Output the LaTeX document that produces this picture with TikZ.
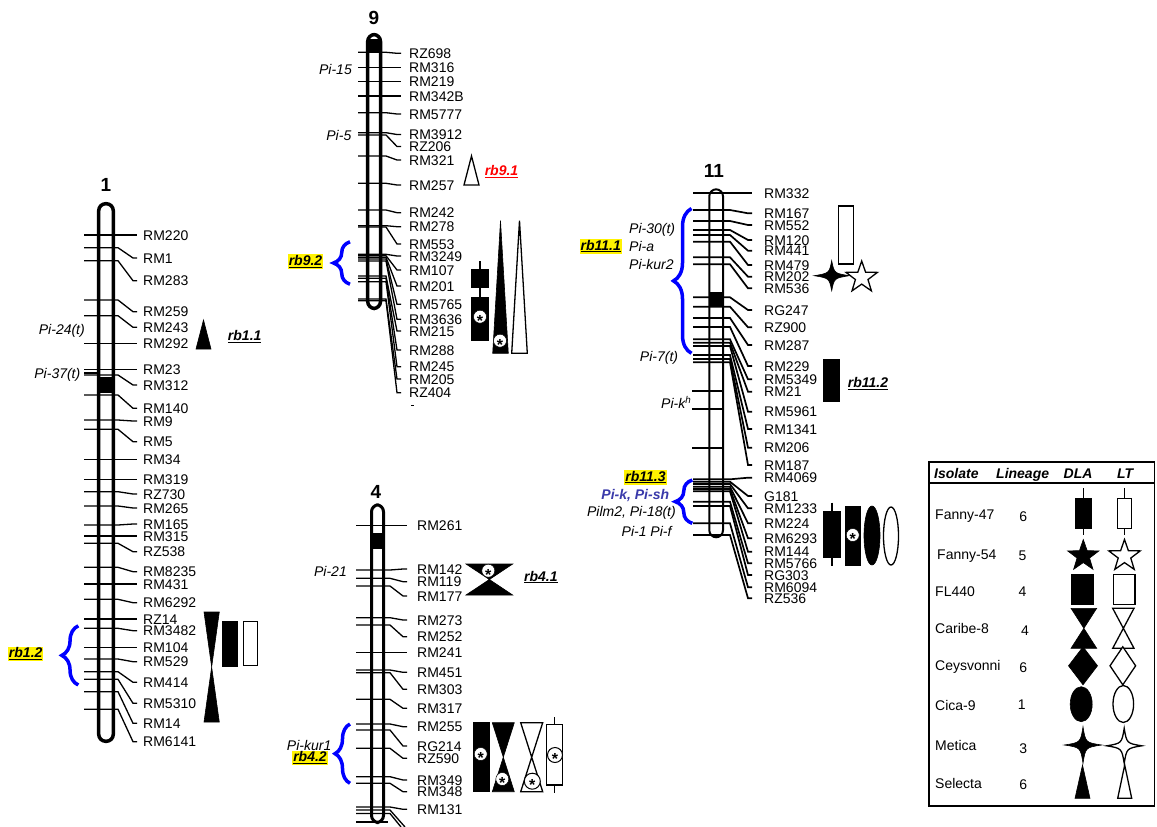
\documentclass[tikz,border=0pt]{standalone}
\usepackage{fontspec}
\setmainfont{Liberation Sans}
\usetikzlibrary{decorations.pathreplacing}
\definecolor{pik}{RGB}{58,58,170}
\newcommand\lbf{\fontsize{14}{16}\selectfont}
\newcommand\myul[1]{\sbox0{#1}\rlap{\rule[-2.3pt]{\wd0}{1.1pt}}\usebox0}
\newcommand\chrmarks[7]{\foreach \tY/\lY/\nY in {#7}{%
  \node[lab] (#1\nY) at (#4,\lY) {\nY};
  \draw[#6] (#2,\tY) -- (#3,\tY) -- ([xshift=-#5pt]#1\nY.west) -- ([xshift=4pt-#5pt]#1\nY.west);}}
\newcommand\hgl[5]{\path[#5] (#1,#3) -- (#2,#3) -- (#1,#4) -- (#2,#4) -- cycle;}
\newcommand\trg[5]{\path[#5] (#1,#4) -- ({(#1+#2)/2},#3) -- (#2,#4) -- cycle;}
\newcommand\wbx[7]{\draw[whk] ({(#1+#2)/2},#5) -- ({(#1+#2)/2},#6); \path[#7] (#1,#3) rectangle (#2,#4);}
\newcommand\dmd[5]{\path[#5] (#1,#2-#4) -- (#1+#3,#2) -- (#1,#2+#4) -- (#1-#3,#2) -- cycle;}
\newcommand\sfour[5]{\path[#5] (#1+#3,#2) .. controls (#1+2.5,#2-2.5) .. (#1,#2-#4) .. controls (#1-2.5,#2-2.5) .. (#1-#3,#2) .. controls (#1-2.5,#2+2.5) .. (#1,#2+#4) .. controls (#1+2.5,#2+2.5) .. (#1+#3,#2) -- cycle;}
\newcommand\sfive[4]{\path[#4] (#1,#2-#3) \foreach \k in {1,...,9}{ -- ({#1+(mod(\k,2)==1?0.4*#3:#3)*cos(90+36*\k)},{#2-(mod(\k,2)==1?0.4*#3:#3)*sin(90+36*\k)}) } -- cycle;}
\newcommand\astx{\raisebox{-0.6em}{*}}
\begin{document}
\begin{tikzpicture}[x=1pt,y=-1pt,
  tk/.style={line width=1.3pt},
  tk11/.style={line width=1.7pt},
  lab/.style={anchor=west,inner sep=0pt,text height=10pt,text depth=0pt,font=\lbf},
  pil/.style={inner sep=0pt,text height=10pt,text depth=0pt,font=\lbf\itshape},
  rbl/.style={inner xsep=1pt,inner ysep=1pt,text height=10pt,text depth=2.5pt,font=\lbf\bfseries\itshape},
  hl/.style={rbl,fill=yellow},
  chrom/.style={draw=black,fill=white,line width=3.5pt,rounded corners=7pt},
  ttl/.style={font=\fontsize{19}{20}\selectfont\bfseries,inner sep=0pt},
  brc/.style={draw=blue,line width=3.5pt,decorate},
  blk/.style={fill=black,draw=black,line width=0.6pt},
  opn/.style={fill=white,draw=black,line width=1.3pt},
  whk/.style={line width=1.3pt},
  astn/.style={circle,fill=white,draw=black,line width=0.5pt,inner sep=0pt,text height=0pt,text depth=0pt,font=\fontsize{16}{16}\selectfont\bfseries},
  leg/.style={anchor=west,inner sep=0pt,text height=10pt,text depth=0pt,font=\lbf},
  legh/.style={leg,font=\lbf\bfseries\itshape},
  num/.style={inner sep=0pt,text height=10pt,text depth=0pt,font=\lbf}
]
\useasboundingbox[fill=white] (0,0) rectangle (1157,827);

% ---------- chromosome 1 ----------
\node[ttl] (t1) at (106,185) {1};
\path[chrom] (98.7,203.7) rectangle (113.3,741.3);
\fill (98.7,377) rectangle (113.3,393);
\chrmarks{c1-}{84}{118}{143}{10}{tk}{235/235/RM220, 247.7/258/RM1, 260.7/280.7/RM283, 300/311.7/RM259, 315.7/327.3/RM243, 343.3/343.3/RM292, 369.3/369.3/RM23, 375/385/RM312, 395/408.3/RM140, 420/421/RM9, 429.3/441.7/RM5, 459.3/459.3/RM34, 479.3/479.3/RM319, 491.7/494/RZ730, 506/508/RM265, 525/524/RM165, 536/536/RM315, 543.3/551.7/RZ538, 567.3/571.7/RM8235, 584/584/RM431, 599.3/602.7/RM6292, 619/619/RZ14, 628.3/630.7/RM3482, 647.7/647.7/RM104, 659/661.7/RM529, 671.7/682.3/RM414, 679.3/703.3/RM5310, 691.7/723.3/RM14, 709.3/741.7/RM6141}
\draw[tk] (84,373) -- (99,373);
\node[pil,anchor=east] (p24) at (85,329.3) {Pi-24(t)};
\node[pil,anchor=east] (p37) at (80.5,373) {Pi-37(t)};
\draw[brc,decoration={brace,amplitude=16.5pt}] (78.3,685) -- (78.3,625.8);
\node[hl] (rb12) at (25.7,654) {\myul{rb1.2}};
\trg{196}{211}{320}{349}{blk}
\node[rbl] (rb11) at (244.7,337) {\myul{rb1.1}};
\hgl{204}{219.3}{612}{722}{blk}
\path[blk] (222,621) rectangle (237.7,666);
\path[opn] (243.5,621.5) rectangle (257.5,665.5);

% ---------- chromosome 9 ----------
\node[ttl] (t9) at (374,18) {9};
\path[chrom] (367.7,34.5) rectangle (380.5,308.5);
\begin{scope}
\clip[rounded corners=7pt] (367.7,34.5) rectangle (380.5,308.5);
\fill (360,39) rectangle (390,52);
\end{scope}
\chrmarks{c9-}{358}{386}{409}{12}{tk}{52.3/53.3/RZ698, 67.7/67.7/RM316, 81.7/81.7/RM219, 96/96/RM342B, 112.7/114/RM5777, 132.7/134.5/RM3912, 135/146.5/RZ206, 156/160/RM321, 183.3/185/RM257, 210/212.7/RM242, 225.7/226.7/RM278, 227/244/RM553, 254.3/256/RM3249, 255.7/270/RM107, 257.3/286/RM201, 259/304.3/RM5765, 261/319.3/RM3636, 276/331/RM215, 278.3/350/RM288, 281.7/366.7/RM245, 299/379/RM205, 300.7/392.7/RZ404}
\draw[line width=1pt] (411,405.5) -- (414,405.5);
\node[pil,anchor=east] (p15) at (352,69.3) {Pi-15};
\node[pil,anchor=east] (p5) at (351.5,135) {Pi-5};
\draw[brc,decoration={brace,amplitude=16.5pt}] (350,284.2) -- (350,241.8);
\node[hl] (rb92) at (305.5,261.7) {\myul{rb9.2}};
\trg{464}{479}{156}{185}{opn}
\node[rbl,text=red] (rb91) at (501.5,171.7) {\myul{rb9.1}};
\wbx{471.7}{488.3}{269}{287.3}{261}{296.7}{blk}
\path[blk] (471.7,297.3) rectangle (488.3,340);
\node[astn,minimum size=13pt] (a91) at (480,316.7) {\astx};
\trg{492.7}{508.3}{220.7}{353.3}{blk}
\node[astn,minimum size=13pt] (a92) at (500,340.7) {\astx};
\trg{511.7}{527.3}{220.7}{353.3}{opn}

% ---------- chromosome 4 ----------
\node[ttl] (t4) at (376,492) {4};
\path[chrom,line width=3pt] (371.5,504.8) rectangle (383.5,822.5);
\fill (371.5,533.3) rectangle (383.5,549.3);
\chrmarks{c4-}{356}{390}{417}{14}{tk}{525.7/525.7/RM261, 570/569/RM142, 578.3/581.7/RM119, 586/596/RM177, 617.7/620/RM273, 625/636.7/RM252, 652.7/652.7/RM241, 670/672.3/RM451, 672.7/689.3/RM303, 699.3/708.3/RM317, 724/726.7/RM255, 730/746/RG214, 748.3/758.3/RZ590, 776.7/780/RM349, 783.3/791.7/RM348, 807/809.3/RM131}
\draw[tk] (356,810) -- (390,810) -- (405,827);
\draw[tk] (356,813.5) -- (390,813.5) -- (401,827);
\draw[tk] (356,822) -- (388,822);
\node[pil,anchor=east] (p21) at (347,571.7) {Pi-21};
\node[pil,anchor=east] (pk1) at (331.5,745.5) {Pi-kur1};
\draw[brc,decoration={brace,amplitude=15pt}] (350,783.3) -- (350,724);
\node[hl] (rb42) at (310,758) {\myul{rb4.2}};
\hgl{466}{512.7}{564}{595}{blk}
\node[astn,minimum size=13pt] (a41) at (488.3,570.7) {\astx};
\node[rbl] (rb41) at (540.8,577.3) {\myul{rb4.1}};
\path[blk] (473.3,722.7) rectangle (489.3,791.7);
\node[astn,minimum size=13pt] (a42) at (480.7,754) {\astx};
\hgl{492.3}{514.3}{722.7}{791.7}{blk}
\node[astn,minimum size=13pt] (a43) at (502.3,779) {\astx};
\hgl{520.7}{542.7}{722.7}{791.7}{opn}
\node[astn,minimum size=16pt,line width=1pt] (a44) at (532.3,781.2) {\astx};
\wbx{546.7}{562.3}{724.3}{785}{717.3}{793.3}{opn}
\node[astn,minimum size=15pt,line width=1pt] (a45) at (555,755) {\astx};

% ---------- chromosome 11 ----------
\node[ttl] (t11) at (714,171) {11};
\path[chrom,line width=2pt] (709.3,189.3) rectangle (723,537.3);
\fill (709.3,291.7) rectangle (723,306.7);
\chrmarks{c11-}{693}{730}{764}{16}{tk11}{193.3/193.3/RM332, 210/213.3/RM167, 221/225/RM552, 230/240/RM120, 235/250.7/RM441, 241.7/265/RM479, 257.3/276.7/RM202, 264.3/288.3/RM536, 297.3/310/RG247, 306.7/327.3/RZ900, 318/345/RM287, 327/366/RM229, 339.3/379.3/RM5349, 342.7/391.7/RM21, 346/411.7/RM5961, 355/429/RM1341, 359/447.7/RM206, 362.3/465/RM187, 479.3/477.7/RM4069, 481.7/496/G181, 484/508.3/RM1233, 486.7/523.3/RM224, 489/538.3/RM6293, 491.3/551.7/RM144, 501.7/563.3/RM5766, 506/575/RG303, 523.3/587.3/RM6094, 535/598.3/RZ536}
\draw[tk11] (692,391) -- (724,391);
\draw[tk11] (692,409) -- (724,409);
\draw[tk11] (692,448.3) -- (724,448.3);
\draw[brc,decoration={brace,amplitude=18pt}] (691.5,353.3) -- (691.5,208.5);
\draw[brc,decoration={brace,amplitude=17pt}] (692.3,523.3) -- (692.3,480);
\node[pil,anchor=west] (p30) at (629,228.3) {Pi-30(t)};
\node[pil,anchor=west] (pa) at (629,246.7) {Pi-a};
\node[pil,anchor=west] (pk2) at (629,264.3) {Pi-kur2};
\node[hl] (rb111) at (600.8,246.3) {\myul{rb11.1}};
\node[pil,anchor=east] (p7) at (678.3,356.7) {Pi-7(t)};
\node[pil,anchor=east] (pkh) at (691.5,403.3) {Pi-k\textsuperscript{h}};
\node[hl] (rb113) at (645.5,477.3) {\myul{rb11.3}};
\node[pil,anchor=east,font=\lbf\bfseries\itshape,text=pik] (pksh) at (669.3,494.3) {Pi-k, Pi-sh};
\node[pil,anchor=east] (pilm) at (676,511.7) {Pilm2, Pi-18(t)};
\node[pil,anchor=east] (p1f) at (671.7,531.7) {Pi-1 Pi-f};
\path[opn] (838.3,206) rectangle (853.3,264);
\sfour{831.7}{275.7}{17.5}{15}{blk}
\sfive{861.7}{277.5}{16.5}{opn}
\path[blk] (823.3,359.3) rectangle (839,401);
\node[rbl] (rb112) at (868,384) {\myul{rb11.2}};
\wbx{823.3}{840.7}{511}{557.3}{502.7}{566}{blk}
\path[blk] (845,506) rectangle (860,565);
\node[astn,minimum size=13pt] (a111) at (852.7,535) {\astx};
\path[blk] (872,535.5) ellipse [x radius=8pt, y radius=29.5pt];
\path[opn] (891,536) ellipse [x radius=7.5pt, y radius=29pt];

% ---------- legend ----------
\draw[line width=1.2pt] (929,462) rectangle (1154.5,806);
\draw[line width=2pt] (929,483.3) -- (1154.5,483.3);
\node[legh] (hI) at (934,473.3) {Isolate};
\node[legh] (hL) at (996,473.3) {Lineage};
\node[legh] (hD) at (1063.5,473.3) {DLA};
\node[legh] (hT) at (1117,473.3) {LT};
\node[leg] (n1) at (935,514.3) {Fanny-47};
\node[leg] (n2) at (937,554.3) {Fanny-54};
\node[leg] (n3) at (935,591) {FL440};
\node[leg] (n4) at (935,628.3) {Caribe-8};
\node[leg] (n5) at (935,665) {Ceysvonni};
\node[leg] (n6) at (935,705) {Cica-9};
\node[leg] (n7) at (935,745.7) {Metica};
\node[leg] (n8) at (935,783.3) {Selecta};
\node[num] (l1) at (1023.3,516) {6};
\node[num] (l2) at (1022.5,555) {5};
\node[num] (l3) at (1022.5,591.7) {4};
\node[num] (l4) at (1025,630) {4};
\node[num] (l5) at (1023.3,667.7) {6};
\node[num] (l6) at (1021.7,704.3) {1};
\node[num] (l7) at (1023.3,748.3) {3};
\node[num] (l8) at (1023.3,784.3) {6};
\wbx{1075.7}{1091}{498.3}{528.3}{488.3}{535}{blk}
\wbx{1117.7}{1131.7}{498.3}{528.3}{488.3}{535}{opn}
\sfive{1083.3}{556}{16.5}{blk}
\sfive{1124.5}{556}{16.5}{opn}
\path[blk] (1071,574.3) rectangle (1093.3,604.3);
\path[opn] (1113.3,574.3) rectangle (1135,604.3);
\hgl{1071}{1096.7}{608.3}{648.3}{blk}
\hgl{1112.7}{1134}{608.3}{648.3}{opn}
\dmd{1083}{665.8}{14.5}{19}{blk}
\dmd{1122.8}{665.8}{12.8}{19}{opn}
\path[blk] (1081.2,704.2) ellipse [x radius=11pt, y radius=17.5pt];
\path[opn] (1123.3,704) ellipse [x radius=10.3pt, y radius=18.5pt];
\sfour{1083}{745}{18.7}{18.3}{blk}
\sfour{1124.2}{745.8}{17.5}{17.5}{opn}
\trg{1075}{1090}{765}{798.3}{blk}
\trg{1117.7}{1131.7}{765}{798.3}{opn}
\end{tikzpicture}
\end{document}
